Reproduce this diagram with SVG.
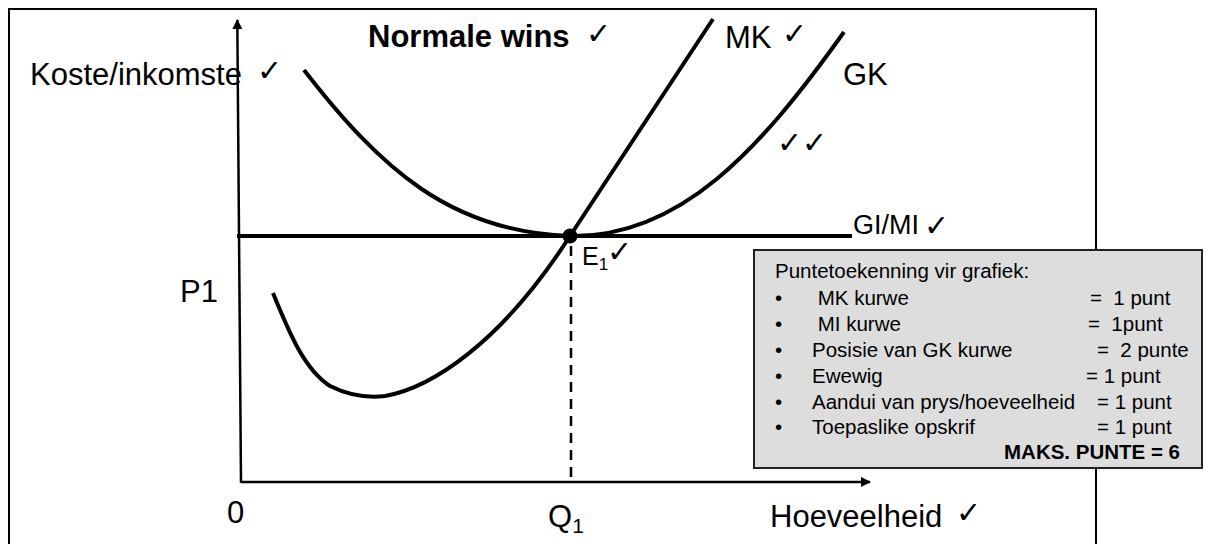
<svg xmlns="http://www.w3.org/2000/svg" width="1208" height="544" viewBox="0 0 1208 544">
<defs>
<marker id="arr" markerWidth="10" markerHeight="10" refX="9" refY="5" orient="auto" markerUnits="userSpaceOnUse">
<path d="M0,0 L10,5 L0,10 Z" fill="#000"/>
</marker>
<style>
.lbl{font-family:"Liberation Sans",Arial,sans-serif;font-size:31px;fill:#000}
.bold{font-weight:bold}
.chk{font-family:"DejaVu Sans",sans-serif;font-size:30px;fill:#000}
.box{font-family:"Liberation Sans",Arial,sans-serif;font-size:20.5px;fill:#000;white-space:pre}
.curve{fill:none;stroke:#000;stroke-width:4}
.axis{fill:none;stroke:#000;stroke-width:2.5}
</style>
</defs>
<rect width="1208" height="544" fill="#fff"/>
<path d="M9,546 L9,9 L1096,9 L1096,546" fill="none" stroke="#000" stroke-width="2"/>

<g id="connectors">
<path class="axis" d="M241,483 L237.3,20" marker-end="url(#arr)"/>
<path class="axis" d="M241,482 L870,482" marker-end="url(#arr)"/>
<path class="curve" d="M237,236 L852,236"/>
<path d="M571,246 L571,482" fill="none" stroke="#000" stroke-width="2.5" stroke-dasharray="10,7"/>
</g>

<g id="gk-curve">
<path class="curve" d="M304,70 C380,168 450,232 570,236 C680,238 760,150 844,32"/>
</g>
<g id="mk-curve">
<path class="curve" d="M273,293 C290,335 305,370 330,386 C350,396 368,398 385,396 C430,388 500,345 570,236 L713,19"/>
</g>
<g id="equilibrium">
<circle cx="570" cy="236" r="7.5" fill="#000"/>
<text class="lbl" x="582" y="265" style="font-size:25px">E<tspan font-size="17" dy="5">1</tspan></text>
<text class="chk" x="607" y="262">✓</text>
</g>

<g id="labels">
<text class="lbl" x="30" y="85">Koste/inkomste</text>
<text class="chk" x="257" y="81">✓</text>
<text class="lbl bold" x="368" y="47">Normale wins</text>
<text class="chk" x="586" y="44">✓</text>
<text class="lbl" x="725" y="48">MK</text>
<text class="chk" x="782" y="44">✓</text>
<text class="lbl" x="843" y="85">GK</text>
<text class="chk" x="777" y="153">✓</text>
<text class="chk" x="802" y="153">✓</text>
<text class="lbl" x="853" y="234" style="font-size:27px">GI/MI</text>
<text class="chk" x="924" y="236">✓</text>
<text class="lbl" x="180" y="302">P1</text>
<text class="lbl" x="227" y="523">0</text>
<text class="lbl" x="548" y="527">Q<tspan font-size="21" dy="6">1</tspan></text>
<text class="lbl" x="770" y="527">Hoeveelheid</text>
<text class="chk" x="956" y="523">✓</text>
</g>

<g id="points-box">
<rect x="754" y="250" width="448" height="218" fill="#dddddd" stroke="#222" stroke-width="2"/>
<text class="box" x="775" y="278">Puntetoekenning vir grafiek:</text>
<g class="box">
<text x="775" y="305">•</text><text x="812" y="305" xml:space="preserve"> MK kurwe</text><text x="1090" y="305" xml:space="preserve">=  1 punt</text>
<text x="775" y="331">•</text><text x="812" y="331" xml:space="preserve"> MI kurwe</text><text x="1088" y="331" xml:space="preserve">=  1punt</text>
<text x="775" y="357">•</text><text x="812" y="357">Posisie van GK kurwe</text><text x="1097" y="357" xml:space="preserve">=  2 punte</text>
<text x="775" y="383">•</text><text x="812" y="383">Ewewig</text><text x="1086" y="383">= 1 punt</text>
<text x="775" y="409">•</text><text x="812" y="409">Aandui van prys/hoeveelheid</text><text x="1097" y="409">= 1 punt</text>
<text x="775" y="434">•</text><text x="812" y="434">Toepaslike opskrif</text><text x="1097" y="434">= 1 punt</text>
</g>
<text class="box bold" x="1180" y="459" text-anchor="end">MAKS. PUNTE = 6</text>
</g>
</svg>
